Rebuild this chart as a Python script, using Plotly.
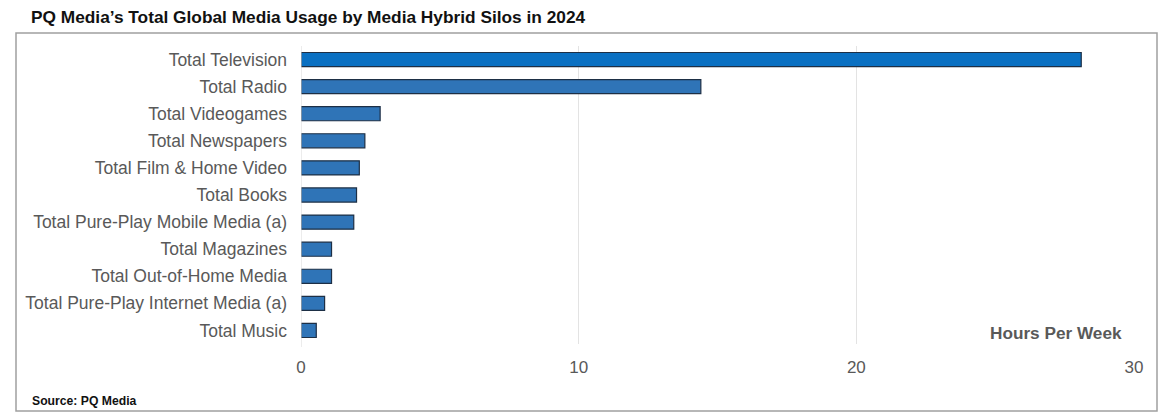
import plotly.graph_objects as go

categories = [
    "Total Television",
    "Total Radio",
    "Total Videogames",
    "Total Newspapers",
    "Total Film & Home Video",
    "Total Books",
    "Total Pure-Play Mobile Media (a)",
    "Total Magazines",
    "Total Out-of-Home Media",
    "Total Pure-Play Internet Media (a)",
    "Total Music",
]
hours_per_week = [28.1, 14.4, 2.85, 2.3, 2.1, 2.0, 1.9, 1.1, 1.1, 0.85, 0.55]
x_ticks = [0, 10, 20, 30]

# page body has an 8px margin; work in screen pixels and shift
OFF = 8
W, H = 1176 - OFF, 413 - OFF
L, R, T, B = 301 - OFF, 1134 - OFF, 46 - OFF, 344 - OFF

colors = ["#0A70C2"] + ["#2F74B7"] * (len(categories) - 1)

fig = go.Figure(
    go.Bar(
        x=hours_per_week,
        y=categories,
        orientation="h",
        width=0.52,
        marker=dict(color=colors, line=dict(color="#1D2F45", width=1.2)),
    )
)

def px_x(p):
    return (p - OFF - L) / (R - L)

def px_y(p):
    return (B - (p - OFF)) / (B - T)

fig.update_layout(
    width=W,
    height=H,
    margin=dict(l=L, r=W - R, t=T, b=H - B, pad=0),
    plot_bgcolor="white",
    paper_bgcolor="white",
    showlegend=False,
    font=dict(family="Liberation Sans, Arial, sans-serif", color="#595959", size=17.5),
    xaxis=dict(
        range=[0, 30],
        tickvals=x_ticks,
        showgrid=True,
        gridcolor="#E3E3E3",
        gridwidth=1,
        zeroline=False,
        showline=False,
        ticks="",
        tickfont=dict(size=17, color="#595959"),
        ticklabelstandoff=11,
        fixedrange=True,
    ),
    yaxis=dict(
        autorange="reversed",
        showgrid=False,
        zeroline=False,
        showline=False,
        ticks="",
        ticklabelstandoff=13,
        tickfont=dict(size=17.5, color="#595959"),
        fixedrange=True,
    ),
    shapes=[
        dict(
            type="rect", xref="paper", yref="paper",
            x0=px_x(16), x1=px_x(1157), y0=px_y(411), y1=px_y(33),
            line=dict(color="#A0A0A0", width=1.5), fillcolor="rgba(0,0,0,0)", layer="below",
        ),
        dict(
            type="line", xref="x", yref="paper",
            x0=0, x1=0, y0=-0.01, y1=1.0,
            line=dict(color="#D9D9D9", width=1),
        ),
    ],
    annotations=[
        dict(
            text="<b>PQ Media’s Total Global Media Usage by Media Hybrid Silos in 2024</b>",
            xref="paper", yref="paper", x=px_x(29), y=px_y(17),
            xanchor="left", yanchor="middle", showarrow=False,
            font=dict(size=17.3, color="#111111"),
        ),
        dict(
            text="<b>Hours Per Week</b>",
            xref="paper", yref="paper", x=px_x(1124), y=px_y(333),
            xanchor="right", yanchor="middle", showarrow=False,
            font=dict(size=17.2, color="#595959"),
        ),
        dict(
            text="<b>Source: PQ Media</b>",
            xref="paper", yref="paper", x=px_x(30), y=px_y(401),
            xanchor="left", yanchor="middle", showarrow=False,
            font=dict(size=12.2, color="#111111"),
        ),
    ],
)

fig.write_html("out.html")
